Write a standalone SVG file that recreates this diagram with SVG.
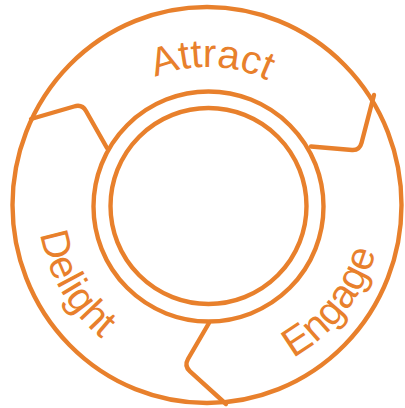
<svg xmlns="http://www.w3.org/2000/svg" width="405" height="408" viewBox="0 0 405 408">
<style>
.ln{fill:none;stroke:#E8802C;stroke-width:4.4;stroke-linejoin:round;stroke-linecap:round}
.lb{font-family:"Liberation Sans",Arial,sans-serif;font-size:40px;fill:#E8802C}
</style>
<defs>
<path id="pA" d="M69,206 A139,139 0 0 1 347,206"/>
<path id="pB" d="M38,206 A170,170 0 0 0 378,206"/>
<path id="pC" d="M34,206 A174,174 0 0 0 382,206"/>
</defs>
<rect width="405" height="408" fill="#fff"/>
<g id="ring">
<ellipse class="ln" cx="207" cy="205" rx="194.5" ry="198"/>
</g>
<g id="hub">
<circle class="ln" cx="208.5" cy="206.5" r="115"/>
<circle class="ln" cx="208.5" cy="206" r="98"/>
</g>
<g id="connectors">
<path class="ln" d="M31,119 L74,106.5 Q82,104 86,111 L107,148"/>
<path class="ln" d="M374,95 L361.5,143 Q359.5,150.5 352,150 L311,146.5"/>
<path class="ln" d="M209,323 L188,359 Q184,366 190,371.4 L226,404"/>
</g>
<g id="attract"><text class="lb" text-anchor="middle"><textPath href="#pA" startOffset="222">Attract</textPath></text></g>
<g id="delight"><text class="lb" text-anchor="middle"><textPath href="#pB" startOffset="90">Delight</textPath></text></g>
<g id="engage"><text class="lb" text-anchor="middle"><textPath href="#pC" startOffset="431">Engage</textPath></text></g>
</svg>
